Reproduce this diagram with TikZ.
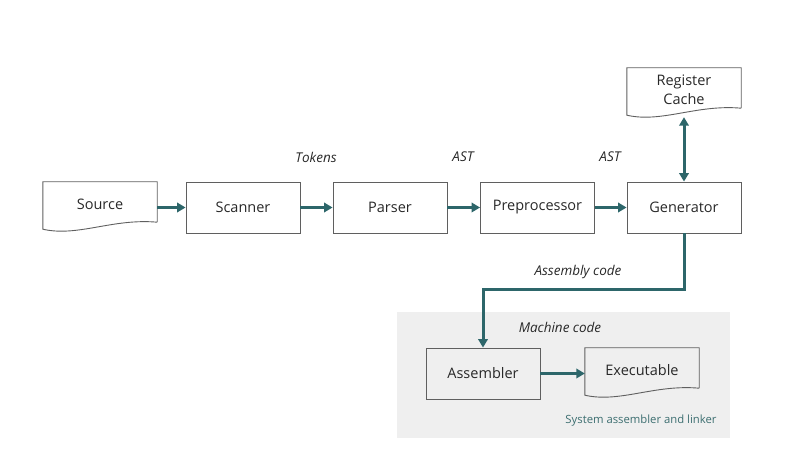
\documentclass[tikz,border=0pt]{standalone}
\usepackage{fontspec}
\setmainfont{Open Sans}
\usepackage{xcolor}
\usepackage{tikz}
\usetikzlibrary{calc,arrows.meta,positioning}
\definecolor{flowTeal}{RGB}{45,102,106}
\definecolor{boxGray}{RGB}{95,95,95}
\definecolor{panelGray}{RGB}{239,239,239}
\definecolor{txtDark}{RGB}{40,40,40}
\definecolor{txtTeal}{RGB}{60,110,112}

% wavy bottom outline for document-style nodes
\newcommand{\docoutline}[1]{%
  \draw[boxGray, line width=0.9pt] ($(#1.south east)+(0,4)$) -- (#1.north east) -- (#1.north west)
    -- ($(#1.south west)+(0,-3)$) .. controls ($(#1.south west)+(35,-11)$) and ($(#1.south east)+(-45,8)$) .. ($(#1.south east)+(0,4)$);}

\begin{document}
\begin{tikzpicture}[x=1pt,y=1pt,
  stage/.style={draw=boxGray, line width=0.9pt, minimum width=114pt, minimum height=51pt,
    text=txtDark, font=\fontsize{14.5}{17}\selectfont},
  docnode/.style={minimum width=114pt, minimum height=44pt, inner sep=0pt, align=center,
    text=txtDark, font=\fontsize{14.5}{17}\selectfont},
  flowlabel/.style={text=txtDark, font=\fontsize{13.5}{16}\itshape},
  flow/.style={flowTeal, line width=3pt, -{Triangle[length=8.5pt,width=9.5pt]}}]
\useasboundingbox (0,0) rectangle (796,466);
\fill[panelGray] (397,28) rectangle (730,154);
% main chain
\node[docnode] (src) at (100,262) {Source};
\docoutline{src}
\node[stage] (scan) at (243,258.5) {Scanner};
\node[stage] (pars) at (390,258.5) {Parser};
\node[stage] (prep) at (537.5,258.5) {Preprocessor};
\node[stage] (gen) at (684,258.5) {Generator};
\node[docnode] (reg) at (684,376) {Register\\[2.5pt]Cache};
\docoutline{reg}
\node[stage] (asm) at (483,92.5) {Assembler};
\node[docnode] (exe) at (642,96) {Executable};
\docoutline{exe}
\draw[flow] (src.east |- scan.west) -- (scan.west);
\draw[flow] (scan) -- (pars);
\draw[flow] (pars) -- (prep);
\draw[flow] (prep) -- (gen);
\draw[flow, {Triangle[length=8.5pt,width=9.5pt]}-{Triangle[length=8.5pt,width=9.5pt]}, shorten <=5pt] (reg.south) -- (gen.north);
\draw[flow] (gen.south) -- ++(0,-56) -| (asm.north);
\draw[flow] (asm.east) -- (asm.east -| exe.west);
% labels
\node[flowlabel] (tok) at (316,309) {Tokens};
\node[flowlabel] (ast1) at (463,309) {AST};
\node[flowlabel] (ast2) at (610,309) {AST};
\node[flowlabel] (asmcode) at (578,194) {Assembly code};
\node[flowlabel] (mcode) at (560,139) {Machine code};
\node[text=txtTeal, font=\fontsize{11.3}{13}\selectfont] (sys) at (641,45) {System assembler and linker};
\end{tikzpicture}
\end{document}
